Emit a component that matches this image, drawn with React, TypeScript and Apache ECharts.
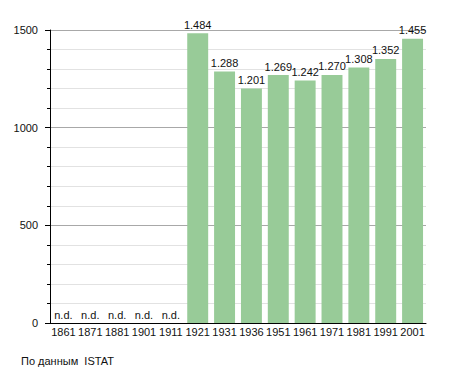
import React, { useEffect, useRef } from "react";
import * as echarts from "echarts";

const years = ["1861", "1871", "1881", "1901", "1911", "1921", "1931", "1936", "1951", "1961", "1971", "1981", "1991", "2001"];
const population: (number | null)[] = [null, null, null, null, null, 1484, 1288, 1201, 1269, 1242, 1270, 1308, 1352, 1455];
const yTicks = { min: 0, max: 1500, interval: 500 };
const sourceNote = "По данным  ISTAT";
const missingLabel = "n.d.";

const FONT = "'Liberation Sans', Arial, Helvetica, sans-serif";

function fmt(v: number): string {
  const s = String(Math.round(v));
  return s.replace(/\B(?=(\d{3})+(?!\d))/g, ".");
}

export default function App() {
  const ref = useRef<HTMLDivElement>(null);
  useEffect(() => {
    if (!ref.current) return;
    const chart = echarts.init(ref.current, undefined, { renderer: "svg" });
    const data = population.map((v) =>
      v === null
        ? { value: 0, label: { formatter: missingLabel } }
        : { value: v }
    );
    chart.setOption({
      animation: false,
      textStyle: { fontFamily: FONT },
      grid: { left: 50, right: 29, top: 30, bottom: 50, containLabel: false },
      xAxis: {
        type: "category",
        data: years,
        axisLine: { show: true, lineStyle: { color: "#000", width: 1 } },
        axisTick: { show: false },
        axisLabel: { color: "#111", fontSize: 11, fontFamily: FONT, margin: 3, interval: 0 },
        splitLine: { show: false },
      },
      yAxis: {
        type: "value",
        min: yTicks.min,
        max: yTicks.max,
        interval: yTicks.interval,
        axisLine: { show: true, lineStyle: { color: "#000", width: 1 } },
        axisTick: { show: true, length: 5, lineStyle: { color: "#000" } },
        minorTick: { show: true, splitNumber: 5, length: 3, lineStyle: { color: "#000" } },
        axisLabel: {
          color: "#111",
          fontSize: 11,
          fontFamily: FONT,
          margin: 12,
          formatter: (v: number) => String(v),
        },
        splitLine: { show: true, lineStyle: { color: "#a8a8a8", width: 1 } },
        minorSplitLine: { show: true, lineStyle: { color: "#e2e2e2", width: 1 } },
      },
      series: [
        {
          type: "bar",
          data,
          barCategoryGap: "22%",
          itemStyle: { color: "#98cb98" },
          label: {
            show: true,
            position: "top",
            distance: 3,
            color: "#111",
            fontSize: 11,
            fontFamily: FONT,
            formatter: (p: any) => fmt(p.value),
          },
        },
      ],
      graphic: [
        {
          type: "text",
          left: 21,
          top: 355,
          style: { text: sourceNote, fill: "#111", fontSize: 11, fontFamily: FONT },
        },
      ],
    });
    return () => chart.dispose();
  }, []);
  return <div ref={ref} style={{ width: 455, height: 373, position: "absolute", left: 0, top: 0 }} />;
}
